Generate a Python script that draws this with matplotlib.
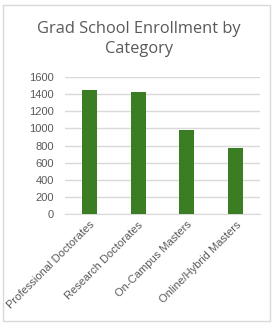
import matplotlib
matplotlib.use("Agg")
import matplotlib.pyplot as plt
from matplotlib.patches import Rectangle

categories = ["Professional Doctorates", "Research Doctorates", "On-Campus Masters", "Online/Hybrid Masters"]
values = [1450, 1425, 980, 770]
yticks = [0, 200, 400, 600, 800, 1000, 1200, 1400, 1600]

W, H = 278, 326
fig = plt.figure(figsize=(W/100, H/100), dpi=100)
fig.patch.set_facecolor("white")

# chart border
fig.patches.append(Rectangle((3/W, 5/H), 267/W, 316/H, transform=fig.transFigure,
                             fill=False, edgecolor="#D9D9D9", linewidth=1))

ax = fig.add_axes([65/W, (H-214)/H, 195/W, 137/H])
x = range(len(categories))
ax.bar(x, values, width=0.31, color="#3A7D22", zorder=3)
ax.set_xlim(-0.5, len(categories)-0.5)
ax.set_ylim(0, 1600)
ax.set_yticks(yticks)
ax.set_yticklabels([str(v) for v in yticks], fontsize=8, color="#595959", family="Liberation Sans")
ax.set_xticks(list(x))
ax.set_xticklabels(categories, rotation=45, ha="right", rotation_mode="anchor",
                   fontsize=8, color="#595959", family="Liberation Sans")
ax.grid(axis="y", color="#D9D9D9", linewidth=1, zorder=0)
for s in ["top", "right", "left"]:
    ax.spines[s].set_visible(False)
ax.spines["bottom"].set_color("#D9D9D9")
ax.tick_params(axis="both", length=0)
ax.tick_params(axis="y", pad=8)
ax.tick_params(axis="x", pad=4)

fig.text(139/W, 1-39/H, "Grad School Enrollment by\nCategory", ha="center", va="center",
         fontsize=11.8, color="#595959", family="Open Sans", linespacing=1.35)

fig.savefig("out.png", dpi=100)
